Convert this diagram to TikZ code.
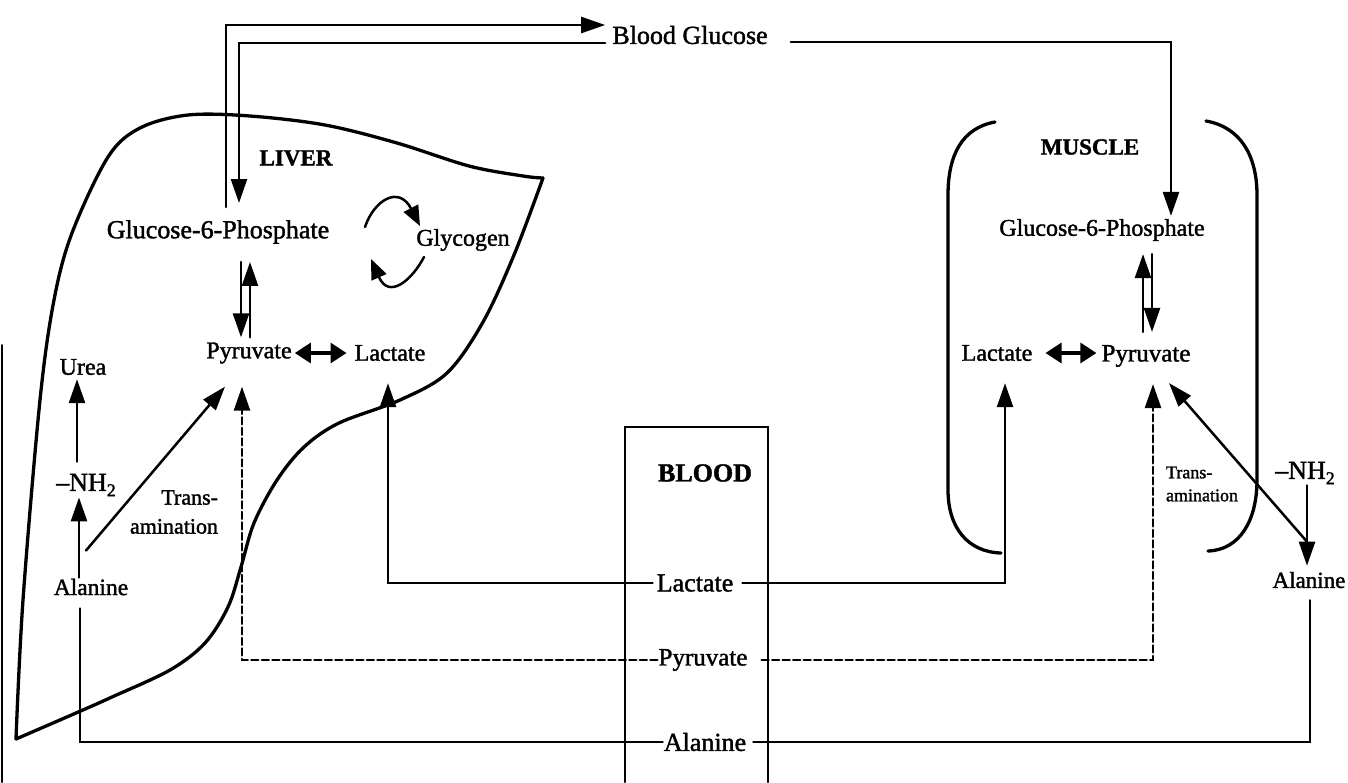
\documentclass[tikz,border=0pt]{standalone}
\usepackage{fontspec}
\setmainfont[FakeBold=1.5]{Liberation Serif}
\usetikzlibrary{arrows.meta,calc}
\tikzset{
  txt/.style={inner sep=1pt, font=\fontsize{#1}{#1}\selectfont},
  txt/.default=24,
  organ/.style={inner sep=1pt, font=\bfseries\fontsize{#1}{#1}\selectfont},
  organ/.default=23,
  flow/.style={line width=2.5pt, -{Triangle[length=24pt,width=16pt]}},
  dflow/.style={line width=2.5pt, dash pattern=on 7pt off 3.5pt, -{Triangle[length=24pt,width=16pt]}},
  swirl/.style={line width=2.5pt, -{Triangle[length=20pt,width=16pt]}},
  twoway/.style={line width=3.2pt, {Triangle[length=16pt,width=20pt]}-{Triangle[length=16pt,width=20pt]}},
  plain/.style={line width=2.5pt},
  wall/.style={line width=3.3pt, line join=round, line cap=round},
}
\newcommand{\nhtwo}{--NH\raisebox{-0.45ex}{\fontsize{18}{18}\selectfont 2}}
\begin{document}
\begin{tikzpicture}[x=1pt, y=-1pt, line cap=round]
  \useasboundingbox (0,0) rectangle (1348,782);

  \node[txt=26] (bglc) at (690,35) {Blood Glucose};
  \node[organ] (liver) at (296,158) {LIVER};
  \node[txt=26] (lg6p) at (218,232) {Glucose-6-Phosphate};
  \node[txt] (glyc) at (463,240) {Glycogen};
  \node[txt] (lpyr) at (249,353) {Pyruvate};
  \node[txt] (llac) at (390,353) {Lactate};
  \node[txt] (urea) at (83,367) {Urea};
  \node[txt=26] (lnh) at (86,485) {\nhtwo};
  \node[inner sep=1pt, align=right, font=\fontsize{22}{29}\selectfont] (ltrans) at (174,512) {Trans-\\amination};
  \node[txt=23.5] (lala) at (91,587) {Alanine};

  \node[organ=26] (blood) at (705,473) {BLOOD};
  \node[txt=26] (blac) at (695,583) {Lactate};
  \node[txt=25] (bpyr) at (703,660) {Pyruvate};
  \node[txt=26] (bala) at (705,742) {Alanine};

  \node[organ] (muscle) at (1090,147) {MUSCLE};
  \node[txt] (mg6p) at (1102,230) {Glucose-6-Phosphate};
  \node[txt] (mlac) at (997,353) {Lactate};
  \node[txt=25] (mpyr) at (1146,356) {Pyruvate};
  \node[inner sep=1pt, align=left, font=\fontsize{18}{23}\selectfont] (mtrans) at (1202,484) {Trans-\\amination};
  \node[txt=26] (mnh) at (1305,473) {\nhtwo};
  \node[txt=23] (mala) at (1309,580) {Alanine};

  \coordinate (bgin) at ($(bglc.west)+(-6,-10)$);
  \coordinate (bgout) at ($(bglc.west)+(-6,8)$);

  \draw[wall] plot[smooth, tension=0.55] coordinates {(543,178) (523,176) (469,166) (397,143) (325,125) (250,116) (188,115) (140,128) (108,157) (72,233) (54,300) (40,400) (23,600) (16,739)};
  \draw[wall] plot[smooth, tension=0.55] coordinates {(16,739) (76,713) (112,697) (170,670) (205,643) (228,607) (241,567) (254,523) (277,480) (304,447) (339,423) (400,400) (447,373) (483,322) (514,255) (543,178)};
  \draw[wall] (995,122) .. controls (962,128) and (948,155) .. (948,195) -- (948,490) .. controls (948,528) and (968,552) .. (1001,553);
  \draw[wall] (1206,121) .. controls (1240,127) and (1257,155) .. (1257,195) -- (1257,480) .. controls (1257,520) and (1240,550) .. (1208,551);
  \draw[line width=2pt] (625,782) -- (625,427) -- (768,427) -- (768,782);
  \draw[line width=2pt] (2,345) -- (2,782);

  \draw[flow, shorten <=12pt] ($(lg6p.north)+(8,0)$) |- (bgin);
  \draw[flow, shorten >=16pt] (bgout) -| ($(lg6p.north)+(21,0)$);
  \draw[flow, shorten >=2pt] ($(bglc.east)+(22,7)$) -| ($(mg6p.north)+(69,0)$);

  \draw[flow, shorten <=4pt, shorten >=17pt] ($(lpyr.north)+(1,0)$) -- ($(lpyr.north |- lg6p.south)+(1,0)$);
  \draw[flow, shorten <=17pt, shorten >=4pt] ($(lpyr.north |- lg6p.south)+(-8,0)$) -- ($(lpyr.north)+(-8,0)$);
  \draw[twoway, shorten >=7pt, shorten <=2pt] (lpyr.east) -- (lpyr.east -| llac.west);
  \draw[swirl] (365,227) .. controls (374,200) and (399,185) .. (420,226);
  \draw[swirl] (424,257) .. controls (412,280) and (389,300) .. (371,259);

  \draw[flow] ($(lala.north |- lnh.north)+(-14,-11)$) -- ($(lala.north |- urea.south)+(-14,3)$);
  \draw[flow] ($(lala.north)+(-12,0)$) -- ($(lala.north |- lnh.south)+(-12,0)$);
  \draw[flow] ($(lala.north)+(-5,-27)$) -- ($(lpyr.south)+(-24,22)$);

  \draw[flow, shorten <=12pt, shorten >=12pt] ($(mpyr.north)+(-3,0)$) -- ($(mpyr.north |- mg6p.south)+(-3,0)$);
  \draw[flow, shorten <=12pt, shorten >=12pt] ($(mpyr.north |- mg6p.south)+(6,0)$) -- ($(mpyr.north)+(6,0)$);
  \draw[twoway, shorten <=12pt, shorten >=4pt] (mlac.east) -- (mlac.east -| mpyr.west);
  \draw[flow] ($(mnh.south)+(2,0)$) -- ($(mnh.south |- mala.north)+(2,-5)$);
  \draw[flow] ($(mala.north)+(-2,-29)$) -- ($(mpyr.south)+(23,15)$);

  \draw[flow, shorten <=3pt] (blac.west) -| ($(llac.south)+(-2,21)$);
  \draw[flow, shorten <=8pt] (blac.east) -| ($(mlac.south)+(8,21)$);
  \draw[dflow] (bpyr.west) -| ($(lpyr.south)+(-7,22)$);
  \draw[dflow, shorten <=13pt] (bpyr.east) -| ($(mpyr.south)+(7,16)$);
  \draw[plain] ($(lala.south)+(-11,12)$) |- (bala.west);
  \draw[plain, shorten <=6pt] (bala.east) -| ($(mala.south)+(1,11)$);
\end{tikzpicture}
\end{document}
